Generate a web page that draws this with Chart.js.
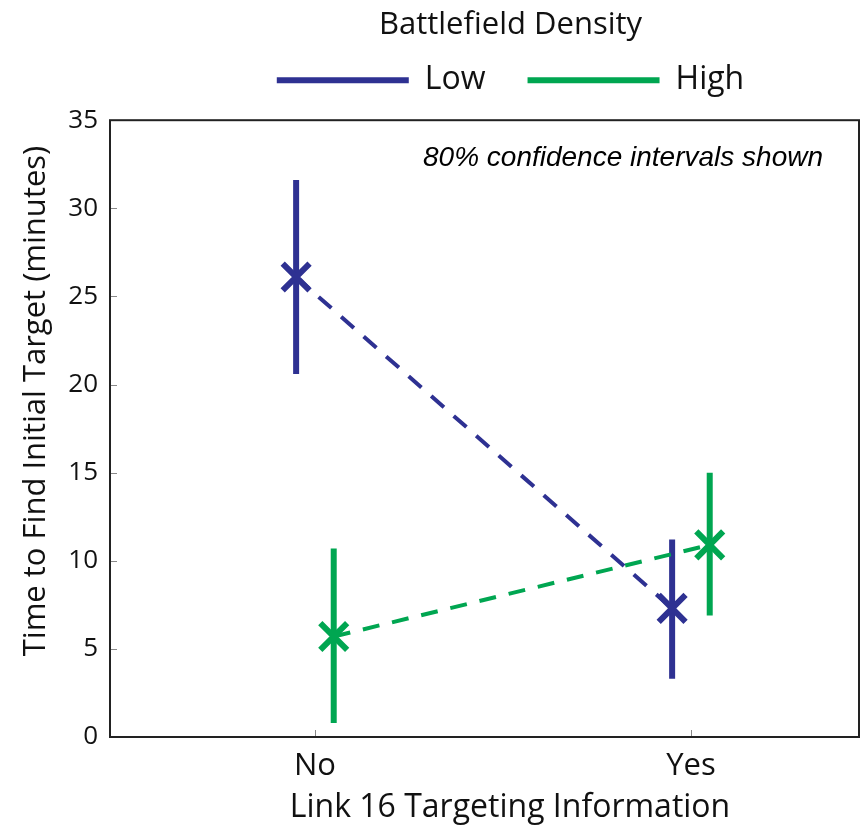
<!DOCTYPE html>
<html>
<head>
<meta charset="utf-8">
<script src="https://cdn.jsdelivr.net/npm/chart.js@4.4.1/dist/chart.umd.min.js"></script>
<style>
  html, body { margin: 0; padding: 0; background: #fff; }
  canvas { display: block; }
</style>
</head>
<body>
<canvas id="chart" width="862" height="827"></canvas>
<script>
// data
const categories = ['No', 'Yes'];
const seriesNames = ['Low', 'High'];
const lowMeans  = [26.1, 7.3];
const lowUpper  = [31.6, 11.2];
const lowLower  = [20.6, 3.3];
const highMeans = [5.7, 10.9];
const highUpper = [10.7, 15.0];
const highLower = [0.8, 6.9];
const yTicks = [0, 5, 10, 15, 20, 25, 30, 35];

const BLUE = '#2e3192';
const GREEN = '#00a651';
const INK = '#111';
const FONT = "'Open Sans', 'DejaVu Sans', sans-serif";
const dodge = 0.05;

const xPos = (i, side) => i + 1 + side * dodge;

function meanSet(label, means, color, side) {
  return {
    label,
    data: means.map((v, i) => ({ x: xPos(i, side), y: v })),
    borderColor: color,
    backgroundColor: color,
    borderWidth: 4,
    borderDash: [17, 13],
    pointStyle: 'crossRot',
    pointRadius: 19,
    pointBorderWidth: 6,
    pointHoverRadius: 19,
    showLine: true,
    order: 0
  };
}

function errorSets(means, upper, lower, color, side) {
  return means.map((_, i) => ({
    label: 'err',
    data: [{ x: xPos(i, side), y: lower[i] }, { x: xPos(i, side), y: upper[i] }],
    borderColor: color,
    backgroundColor: color,
    borderWidth: 6,
    pointRadius: 0,
    showLine: true,
    order: 1
  }));
}

// legend: give it the height of the original header and move it right
const legendTweak = {
  id: 'legendTweak',
  beforeLayout(chart) {
    const lg = chart.legend;
    if (lg && !lg._trimmed) {
      const fit = lg.fit;
      lg.fit = function () { fit.call(this); this.height += 14; };
      lg._trimmed = true;
    }
  },
  afterLayout(chart) {
    const lg = chart.legend;
    lg.left += 81;
    lg.right += 81;
  }
};

const frame = {
  id: 'frame',
  afterDraw(chart) {
    const { ctx, chartArea: a, scales: { x, y } } = chart;
    ctx.save();
    ctx.strokeStyle = '#888';
    ctx.lineWidth = 1;
    yTicks.forEach(v => {
      const py = Math.round(y.getPixelForValue(v)) + 0.5;
      ctx.beginPath(); ctx.moveTo(a.left, py); ctx.lineTo(a.left + 7, py); ctx.stroke();
    });
    categories.forEach((_, i) => {
      const px = Math.round(x.getPixelForValue(i + 1)) + 0.5;
      ctx.beginPath(); ctx.moveTo(px, a.bottom); ctx.lineTo(px, a.bottom - 7); ctx.stroke();
    });
    ctx.strokeStyle = '#222';
    ctx.lineWidth = 2;
    ctx.strokeRect(a.left, a.top, a.right - a.left, a.bottom - a.top);

    ctx.fillStyle = INK;
    ctx.textBaseline = 'middle';
    ctx.textAlign = 'center';
    ctx.font = '32px ' + FONT;
    ctx.fillText('Link 16 Targeting Information', 510, 808);

    ctx.save();
    ctx.translate(36, 401);
    ctx.rotate(-Math.PI / 2);
    ctx.font = '31px ' + FONT;
    ctx.fillText('Time to Find Initial Target (minutes)', 0, 0);
    ctx.restore();

    ctx.fillStyle = '#000';
    ctx.font = "italic 28px 'Liberation Sans', Arial, sans-serif";
    ctx.textAlign = 'right';
    ctx.fillText('80% confidence intervals shown', 823, 158);
    ctx.restore();
  }
};

new Chart(document.getElementById('chart'), {
  type: 'scatter',
  data: {
    datasets: [
      meanSet(seriesNames[0], lowMeans, BLUE, -1),
      meanSet(seriesNames[1], highMeans, GREEN, 1),
      ...errorSets(lowMeans, lowUpper, lowLower, BLUE, -1),
      ...errorSets(highMeans, highUpper, highLower, GREEN, 1)
    ]
  },
  options: {
    responsive: false,
    animation: false,
    layout: { autoPadding: false, padding: { left: 0, right: 3, top: 0, bottom: 0 } },
    plugins: {
      tooltip: { enabled: false },
      legend: {
        position: 'top',
        align: 'center',
        title: {
          display: true,
          text: 'Battlefield Density',
          color: INK,
          font: { family: FONT, size: 31 },
          padding: { top: 10, bottom: -25 }
        },
        labels: {
          filter: item => item.text !== 'err',
          boxWidth: 132,
          boxHeight: 6,
          padding: 42,
          color: INK,
          font: { family: FONT, size: 32 },
          generateLabels(chart) {
            return chart.data.datasets.map((d, i) => ({
              text: d.label,
              fillStyle: d.borderColor,
              strokeStyle: d.borderColor,
              lineWidth: 0,
              hidden: false,
              datasetIndex: i
            }));
          }
        }
      }
    },
    scales: {
      x: {
        type: 'linear',
        min: 0.455,
        max: 2.447,
        grid: { display: false, drawTicks: false },
        border: { display: false },
        afterBuildTicks(scale) { scale.ticks = categories.map((_, i) => ({ value: i + 1 })); },
        afterFit(scale) { scale.height = 90; scale.paddingLeft = 0; scale.paddingRight = 0; },
        ticks: {
          callback: v => categories[v - 1],
          color: INK,
          font: { family: FONT, size: 31 },
          padding: 11,
          maxRotation: 0
        }
      },
      y: {
        min: 0,
        max: 35,
        grid: { display: false, drawTicks: false },
        border: { display: false },
        afterBuildTicks(scale) { scale.ticks = yTicks.map(v => ({ value: v })); },
        afterFit(scale) { scale.width = 110; },
        ticks: {
          color: INK,
          font: { family: FONT, size: 26 },
          padding: 12
        }
      }
    }
  },
  plugins: [legendTweak, frame]
});
</script>
</body>
</html>
